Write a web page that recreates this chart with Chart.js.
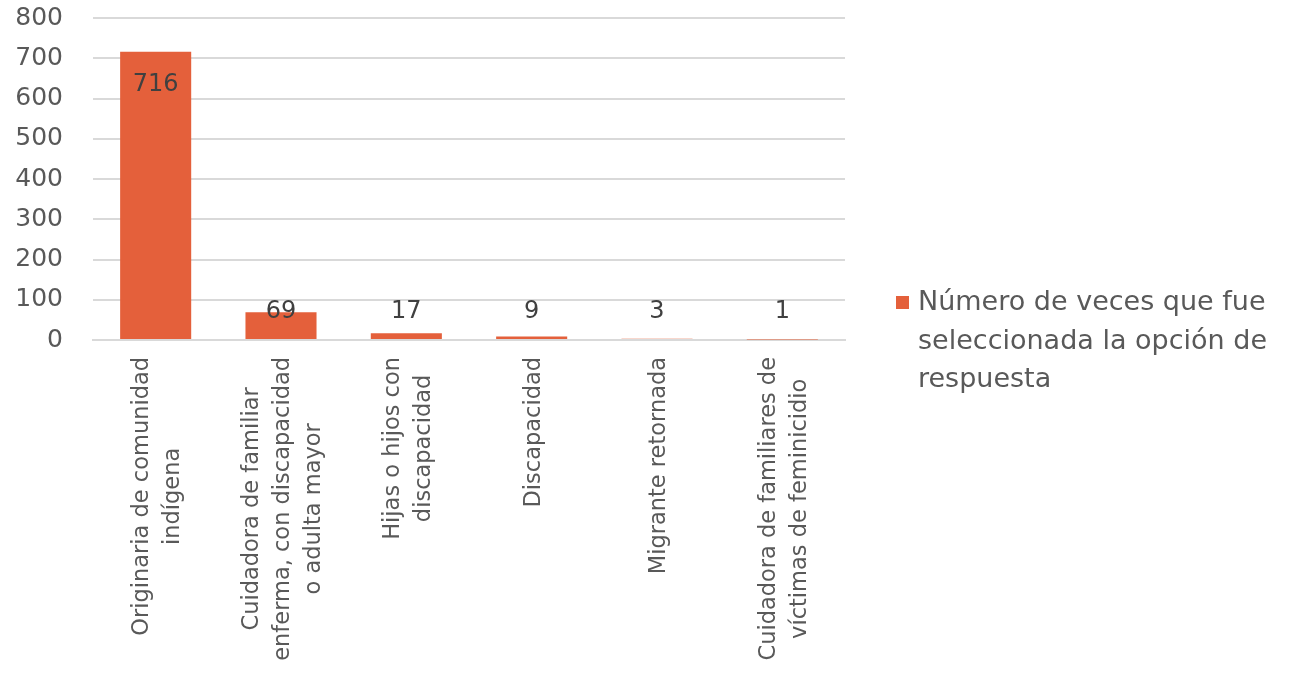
<!DOCTYPE html>
<html>
<head>
<meta charset="utf-8">
<script src="https://cdn.jsdelivr.net/npm/chart.js@4"></script>
<style>
html,body{margin:0;padding:0;background:#fff;}
#wrap{width:1291px;height:679px;position:relative;}
</style>
</head>
<body>
<div id="wrap"><canvas id="c" width="1291" height="679"></canvas></div>
<script>
const categories = [
  ["Originaria de comunidad","indígena"],
  ["Cuidadora de familiar","enferma, con discapacidad","o adulta mayor"],
  ["Hijas o hijos con","discapacidad"],
  ["Discapacidad"],
  ["Migrante retornada"],
  ["Cuidadora de familiares de","víctimas de feminicidio"]
];
const seriesLabel = ["Número de veces que fue","seleccionada la opción de","respuesta"];
const values = [716, 69, 17, 9, 3, 1];
const yTicks = [0, 100, 200, 300, 400, 500, 600, 700, 800];

const FONT = '"DejaVu Sans", sans-serif';
const BAR = '#E4603B';

const drawExtras = {
  id: 'drawExtras',
  afterDatasetsDraw(chart) {
    const ctx = chart.ctx;
    const xs = chart.scales.x, ys = chart.scales.y;
    const zeroY = ys.getPixelForValue(0);
    // data labels
    ctx.save();
    ctx.fillStyle = '#404040';
    ctx.font = '24px ' + FONT;
    ctx.textAlign = 'center';
    ctx.textBaseline = 'middle';
    values.forEach((v, i) => {
      const x = xs.getPixelForValue(i);
      const top = ys.getPixelForValue(v);
      const y = Math.min(top + 33, zeroY - 28);
      ctx.fillText(String(v), x, y);
    });
    ctx.restore();
    // category labels (rotated, centered lines)
    ctx.save();
    ctx.fillStyle = '#595959';
    ctx.font = '22.5px ' + FONT;
    ctx.textAlign = 'center';
    ctx.textBaseline = 'middle';
    const lh = 31;
    categories.forEach((lines, i) => {
      const x0 = xs.getPixelForValue(i) + 2;
      const W = Math.max(...lines.map(l => ctx.measureText(l).width));
      const n = lines.length;
      lines.forEach((l, j) => {
        const x = x0 + (j - (n - 1) / 2) * lh;
        ctx.save();
        ctx.translate(x, zeroY + 17 + W / 2);
        ctx.rotate(-Math.PI / 2);
        ctx.fillText(l, 0, 0);
        ctx.restore();
      });
    });
    ctx.restore();
    // legend
    ctx.save();
    const lx = chart.chartArea.right + 51;
    const ly = 296;
    ctx.fillStyle = BAR;
    ctx.fillRect(lx, ly, 13, 13);
    ctx.fillStyle = '#595959';
    ctx.font = '27px ' + FONT;
    ctx.textAlign = 'left';
    ctx.textBaseline = 'middle';
    seriesLabel.forEach((l, j) => {
      ctx.fillText(l, lx + 22, ly + 7 + j * 38.5);
    });
    ctx.restore();
  }
};

new Chart(document.getElementById('c'), {
  type: 'bar',
  data: {
    labels: categories,
    datasets: [{
      label: seriesLabel.join(' '),
      data: values,
      backgroundColor: BAR,
      borderWidth: 0,
      barPercentage: 0.567,
      categoryPercentage: 1
    }]
  },
  options: {
    responsive: false,
    animation: false,
    events: [],
    layout: { padding: { top: 18, right: 446, left: 0, bottom: 0 } },
    plugins: { legend: { display: false }, tooltip: { enabled: false } },
    scales: {
      x: {
        grid: { display: false },
        border: { display: true, color: '#d9d9d9', width: 2 },
        ticks: { display: false },
        afterFit(s) { s.height = 339; s.paddingLeft = 0; s.paddingRight = 0; }
      },
      y: {
        min: 0, max: 800,
        afterBuildTicks(s) { s.ticks = yTicks.map(v => ({ value: v })); },
        grid: { color: '#d9d9d9', lineWidth: 2, drawTicks: false },
        border: { display: false },
        ticks: {
          color: '#595959',
          font: { family: FONT, size: 25 },
          padding: 30
        },
        afterFit(s) { s.width = 93; s.paddingTop = 0; s.paddingBottom = 0; }
      }
    }
  },
  plugins: [drawExtras]
});
</script>
</body>
</html>
